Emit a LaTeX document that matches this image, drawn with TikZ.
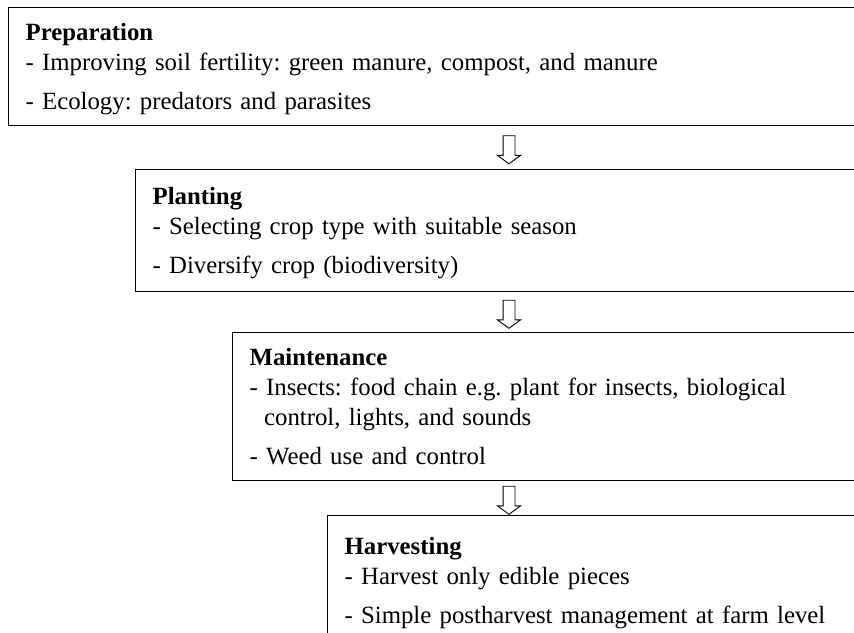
\documentclass[tikz,border=0pt]{standalone}
\usepackage{fontspec}
\setmainfont{Liberation Serif}
\usetikzlibrary{positioning,calc,shapes.arrows}

\tikzset{
  stage/.style={draw, line width=1.2pt, anchor=north west, align=left,
    inner xsep=17pt, inner ysep=0pt,
    font=\fontsize{24.8}{30}\selectfont\frenchspacing,
    execute at begin node=\rule{0pt}{33pt},
    execute at end node=\rule[-16pt]{0pt}{0pt}},
  flowarrow/.style={single arrow, draw, line width=0.9pt, fill=white,
    shape border rotate=270, inner sep=5.5pt,
    minimum height=28pt, minimum width=22pt,
    single arrow head extend=5.5pt, single arrow tip angle=108}
}

\begin{document}
\begin{tikzpicture}[x=1pt, y=-1pt]
\useasboundingbox (0,0) rectangle (854,632);
\clip (0,0) rectangle (854,632);
\coordinate (axis) at (509,0);

\node[stage, text width=828pt] (prep) at (8,7)
  {\textbf{Preparation}\\
   - Improving soil fertility: green manure, compost, and manure\\[9pt]
   - Ecology: predators and parasites};
\node[stage, text width=701pt, minimum height=122pt] (plant) at (135,169)
  {\textbf{Planting}\\
   - Selecting crop type with suitable season\\[9pt]
   - Diversify crop (biodiversity)};
\node[stage, text width=604pt] (maint) at (232,332)
  {\textbf{Maintenance}\\
   - Insects: food chain e.g. plant for insects, biological\\
   \hspace*{14.5pt}control, lights, and sounds\\[9pt]
   - Weed use and control};
\node[stage, text width=509pt, minimum height=130pt] (harv) at (327,515)
  {\textbf{Harvesting}\\
   - Harvest only edible pieces\\[9pt]
   - Simple postharvest management at farm level};

% arrows between the stages
\node[flowarrow] (a1) at ($(prep.south -| axis)!0.5!(plant.north -| axis)$) {};
\node[flowarrow] (a2) at ($(plant.south -| axis)!0.5!(maint.north -| axis)$) {};
\node[flowarrow] (a3) at ($(maint.south -| axis)!0.5!(harv.north -| axis)$) {};
\end{tikzpicture}
\end{document}
